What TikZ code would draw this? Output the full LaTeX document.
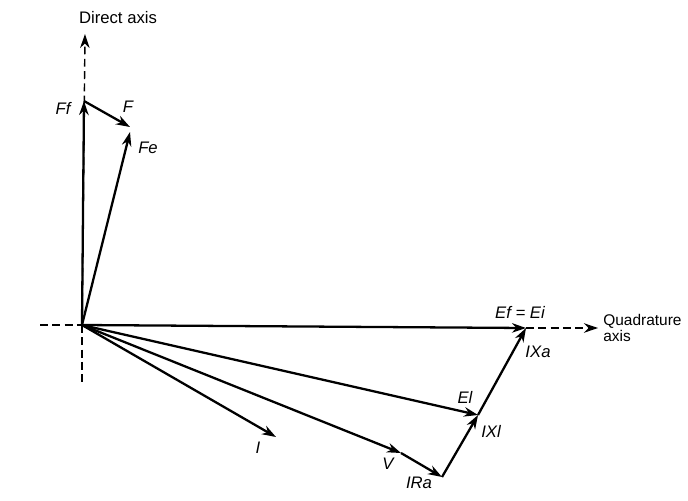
\documentclass[tikz,border=0pt]{standalone}
\usepackage{fontspec}
\setmainfont{Liberation Sans}
\usetikzlibrary{arrows.meta}

\begin{document}
\begin{tikzpicture}[x=0.02cm,y=-0.02cm,font=\fontsize{9.5}{10}\selectfont,
  >={Stealth[length=2.8mm,width=1.9mm,inset=0.9mm]},
  vec/.style={->,line width=1.3pt},
  axis/.style={line width=0.8pt,dash pattern=on 4.5pt off 2.5pt},
  lbl/.style={font=\fontsize{9.5}{10}\selectfont\itshape,inner sep=1pt}]
\useasboundingbox (0,0) rectangle (688,500);
% points of the diagram
\coordinate (O)    at (82,325);
\coordinate (Ff)   at (84,101);
\coordinate (F)    at (130,127);
\coordinate (Fe)   at (130,132);
\coordinate (Ef)   at (526,328);
\coordinate (El)   at (478,415);
\coordinate (V)    at (401,453);
\coordinate (IRa)  at (442,477);
\coordinate (I)    at (276,437);
\coordinate (dtop) at (85,34);
\coordinate (dbot) at (82,383);
\coordinate (qlft) at (40,325);
\coordinate (qrgt) at (598,328);
% axes
\draw[axis,->] (O) -- (dtop);
\draw[axis]    (O) -- (dbot);
\draw[axis]    (qlft) -- (O);
\draw[axis,->] (Ef) -- (qrgt);
% vectors
\draw[vec] (O) -- (Ff);
\draw[vec] (Ff) -- (F);
\draw[vec] (O) -- (Fe);
\draw[vec] (O) -- (Ef);
\draw[vec] (O) -- (El);
\draw[vec] (O) -- (V);
\draw[vec] (O) -- (I);
\draw[vec] (V) -- (IRa);
\draw[vec] (IRa) -- (El);
\draw[vec] (El) -- (Ef);
% labels
\node (tdir) at (118,18) {Direct axis};
\node[anchor=west,align=left,inner sep=0pt,font=\fontsize{8.8}{7.5}\selectfont] (tquad) at (603,328) {Quadrature\\axis};
\node[lbl] (lFf)  at (63,108)  {Ff};
\node[lbl] (lF)   at (128,107) {F};
\node[lbl] (lFe)  at (148,148) {Fe};
\node[lbl] (lEf)  at (520,312) {Ef = Ei};
\node[lbl] (lIXa) at (538,352) {IXa};
\node[lbl] (lEl)  at (465,397) {El};
\node[lbl] (lIXl) at (491,431) {IXl};
\node[lbl] (lIRa) at (419,483) {IRa};
\node[lbl] (lI)   at (258,448) {I};
\node[lbl] (lV)   at (388,464) {V};
\end{tikzpicture}
\end{document}
